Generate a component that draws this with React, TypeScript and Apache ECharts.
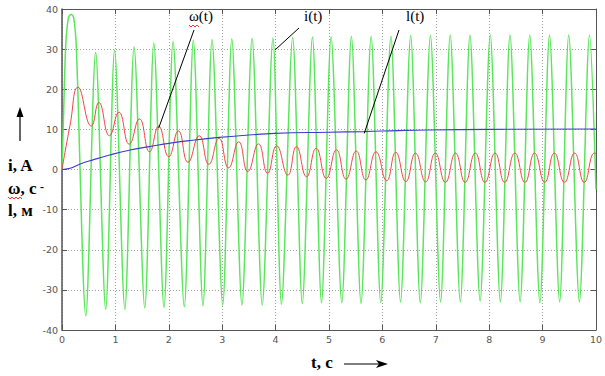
import React, { useEffect, useRef } from "react";
import * as echarts from "echarts";

// i(t) current: extrema (t in s, value in A)
const currentT = [0, 0.03, 0.07, 0.12, 0.17, 0.22, 0.27, 0.446, 0.63, 0.818, 0.985, 1.177, 1.35, 1.55, 1.72, 1.91, 2.08, 2.29, 2.46, 2.64, 2.81, 3.01, 3.18, 3.37, 3.56, 3.75, 3.95, 4.11, 4.32, 4.5, 4.69, 4.86, 5.04, 5.24, 5.42, 5.6, 5.79, 5.97, 6.16, 6.34, 6.53, 6.71, 6.9, 7.09, 7.27, 7.46, 7.64, 7.83, 8.02, 8.21, 8.39, 8.58, 8.76, 8.95, 9.13, 9.32, 9.49, 9.69, 9.88, 10.0];
const currentI = [0, 14, 31, 37.8, 38.7, 37.8, 30, -36.5, 29.2, -34.9, 29.8, -34.9, 30.6, -34.5, 31.5, -34.4, 31.9, -34.2, 32.3, -34.0, 32.4, -33.8, 32.6, -33.8, 32.7, -33.8, 32.8, -33.6, 32.9, -33.4, 33.0, -33.2, 33.1, -33.2, 33.2, -33.4, 33.2, -33.2, 33.3, -33.0, 33.4, -33.2, 33.4, -33.0, 33.5, -33.0, 33.5, -32.8, 33.5, -33.0, 33.5, -33.0, 33.5, -33.2, 33.5, -33.0, 33.5, -33.0, 33.5, -5];

// ω(t) speed
const omegaT = [0, 0.15, 0.3, 0.55, 0.69, 0.89, 1.065, 1.26, 1.45, 1.64, 1.81, 2.0, 2.18, 2.36, 2.57, 2.75, 2.94, 3.12, 3.31, 3.48, 3.68, 3.85, 4.02, 4.23, 4.39, 4.58, 4.76, 4.95, 5.14, 5.32, 5.51, 5.69, 5.88, 6.08, 6.25, 6.44, 6.62, 6.81, 6.99, 7.18, 7.37, 7.55, 7.74, 7.92, 8.11, 8.29, 8.48, 8.67, 8.85, 9.04, 9.22, 9.41, 9.6, 9.78, 9.97, 10.0];
const omegaW = [0, 11, 20.5, 10.8, 16.7, 8.4, 14.3, 6.3, 12.6, 4.4, 10.8, 3.2, 9.6, 1.8, 8.4, 1.3, 7.8, 0.4, 6.9, -0.5, 6.4, -0.95, 5.9, -1.4, 5.7, -1.8, 5.3, -2.2, 4.9, -2.4, 4.6, -2.6, 4.4, -2.8, 4.3, -3.0, 4.1, -3.1, 4.1, -3.2, 4.1, -3.2, 4.1, -3.2, 4.1, -3.2, 4.1, -3.2, 4.1, -3.2, 4.1, -3.2, 4.1, -3.2, 4.1, 4.0];

// l(t) position
const lengthT = [0, 0.15, 0.33, 0.58, 0.89, 1.26, 1.64, 2.0, 2.38, 2.94, 3.5, 3.99, 4.98, 5.66, 6.3, 6.84, 8.0, 10.0];
const lengthL = [0, 0.3, 1.3, 2.4, 3.6, 4.8, 5.7, 6.5, 7.2, 8.0, 8.6, 9.0, 9.3, 9.45, 9.7, 9.85, 10.0, 10.1];

const xMin = 0, xMax = 10, xStep = 1;
const yMin = -40, yMax = 40, yStep = 10;

// annotation anchors on curves (data coords)
const annOmega = [1.81, 10.3];
const annCurrent = [3.99, 29.8];
const annLength = [5.66, 9.0];

const zip = (a: number[], b: number[]) => a.map((v, i) => [v, b[i]]);

const SERIF = "'Liberation Serif', 'Times New Roman', serif";
const SANS = "'DejaVu Sans', 'Liberation Sans', sans-serif";

export default function App() {
  const ref = useRef<HTMLDivElement>(null);
  useEffect(() => {
    if (!ref.current) return;
    const chart = echarts.init(ref.current, undefined, { renderer: "svg" });
    const axisColor = "#555";
    const gridLine = { show: true, lineStyle: { type: [1, 2] as any, color: "#a0a0a0", width: 1 } };
    chart.setOption({
      animation: false,
      backgroundColor: "#fff",
      grid: { left: 62, right: 5, top: 9, bottom: 46 },
      xAxis: [
        {
          type: "value", min: xMin, max: xMax, interval: xStep, position: "bottom",
          axisLine: { show: true, onZero: false, lineStyle: { color: axisColor, width: 1 } },
          axisTick: { show: true, inside: true, length: 5, lineStyle: { color: axisColor } },
          axisLabel: { color: "#555", fontSize: 9.5, margin: 4, fontFamily: SANS },
          splitLine: gridLine,
        },
        {
          type: "value", min: xMin, max: xMax, interval: xStep, position: "top",
          axisLine: { show: true, onZero: false, lineStyle: { color: axisColor, width: 1 } },
          axisTick: { show: true, inside: true, length: 5, lineStyle: { color: axisColor } },
          axisLabel: { show: false },
          splitLine: { show: false },
        },
      ],
      yAxis: [
        {
          type: "value", min: yMin, max: yMax, interval: yStep, position: "left",
          axisLine: { show: true, onZero: false, lineStyle: { color: axisColor, width: 1.5 } },
          axisTick: { show: true, inside: true, length: 5, lineStyle: { color: axisColor } },
          axisLabel: { color: "#555", fontSize: 9.5, margin: 4, fontFamily: SANS },
          splitLine: gridLine,
        },
        {
          type: "value", min: yMin, max: yMax, interval: yStep, position: "right",
          axisLine: { show: true, onZero: false, lineStyle: { color: axisColor, width: 1 } },
          axisTick: { show: true, inside: true, length: 5, lineStyle: { color: axisColor } },
          axisLabel: { show: false },
          splitLine: { show: false },
        },
      ],
      series: [
        {
          name: "i(t)", type: "line", data: zip(currentT, currentI), smooth: 0.3,
          showSymbol: false, symbol: "none", lineStyle: { color: "#5ae65a", width: 1.5 }, z: 2,
        },
        {
          name: "ω(t)", type: "line", data: zip(omegaT, omegaW), smooth: true,
          showSymbol: false, symbol: "none", lineStyle: { color: "#f04444", width: 1 }, z: 3,
        },
        {
          name: "l(t)", type: "line", data: zip(lengthT, lengthL), smooth: true,
          showSymbol: false, symbol: "none", lineStyle: { color: "#3c3ccc", width: 1.1 }, z: 4,
        },
      ],
    });

    const px = (p: number[]) => chart.convertToPixel({ gridIndex: 0 }, p) as number[];
    const pO = px(annOmega), pI = px(annCurrent), pL = px(annLength);
    const black = { stroke: "#000", lineWidth: 1 };
    const wavy = (x0: number, y0: number, n: number) => {
      const pts: number[][] = [];
      for (let k = 0; k <= n; k++) pts.push([x0 + k * 2, y0 + (k % 2 === 0 ? 0 : 2)]);
      return pts;
    };
    chart.setOption({
      graphic: [
        { type: "line", shape: { x1: 194, y1: 30, x2: pO[0], y2: pO[1] }, style: black, z: 10 },
        { type: "line", shape: { x1: 299, y1: 28, x2: pI[0], y2: pI[1] }, style: black, z: 10 },
        { type: "line", shape: { x1: 399, y1: 30, x2: pL[0], y2: pL[1] }, style: black, z: 10 },
        { type: "text", x: 189, y: 8, style: { text: "ω(t)", font: `15px ${SERIF}`, fill: "#000" }, z: 10 },
        { type: "polyline", shape: { points: wavy(189, 25, 5) }, style: { stroke: "#e00", lineWidth: 0.8, fill: "none" }, z: 10 },
        { type: "text", x: 304, y: 8, style: { text: "i(t)", font: `15px ${SERIF}`, fill: "#000" }, z: 10 },
        { type: "text", x: 406, y: 8, style: { text: "l(t)", font: `15px ${SERIF}`, fill: "#000" }, z: 10 },
        // left axis caption
        { type: "line", shape: { x1: 20, y1: 141, x2: 20, y2: 114 }, style: { stroke: "#000", lineWidth: 1.2 } },
        { type: "polygon", shape: { points: [[20, 107], [16.5, 117], [23.5, 117]] }, style: { fill: "#000" } },
        { type: "text", x: 8, y: 157, style: { text: "i, A", font: `bold 17px ${SERIF}`, fill: "#000" } },
        { type: "text", x: 8, y: 180, style: { text: "ω, c", font: `bold 17px ${SERIF}`, fill: "#000" } },
        { type: "text", x: 40, y: 181, style: { text: "-", font: `bold 12px ${SERIF}`, fill: "#000" } },
        { type: "polyline", shape: { points: wavy(8, 197, 7) }, style: { stroke: "#e00", lineWidth: 0.8, fill: "none" } },
        { type: "text", x: 8, y: 202, style: { text: "l, м", font: `bold 17px ${SERIF}`, fill: "#000" } },
        // bottom caption
        { type: "text", x: 311, y: 354, style: { text: "t, c", font: `bold 17px ${SERIF}`, fill: "#000" } },
        { type: "line", shape: { x1: 344, y1: 364, x2: 382, y2: 364 }, style: { stroke: "#000", lineWidth: 1.2 } },
        { type: "polygon", shape: { points: [[388, 364], [376, 360], [379, 364], [376, 368]] }, style: { fill: "#000" } },
      ],
    });
    return () => chart.dispose();
  }, []);
  return (
    <div
      ref={ref}
      style={{ position: "fixed", left: 0, top: 0, width: 605, height: 376 }}
    />
  );
}
